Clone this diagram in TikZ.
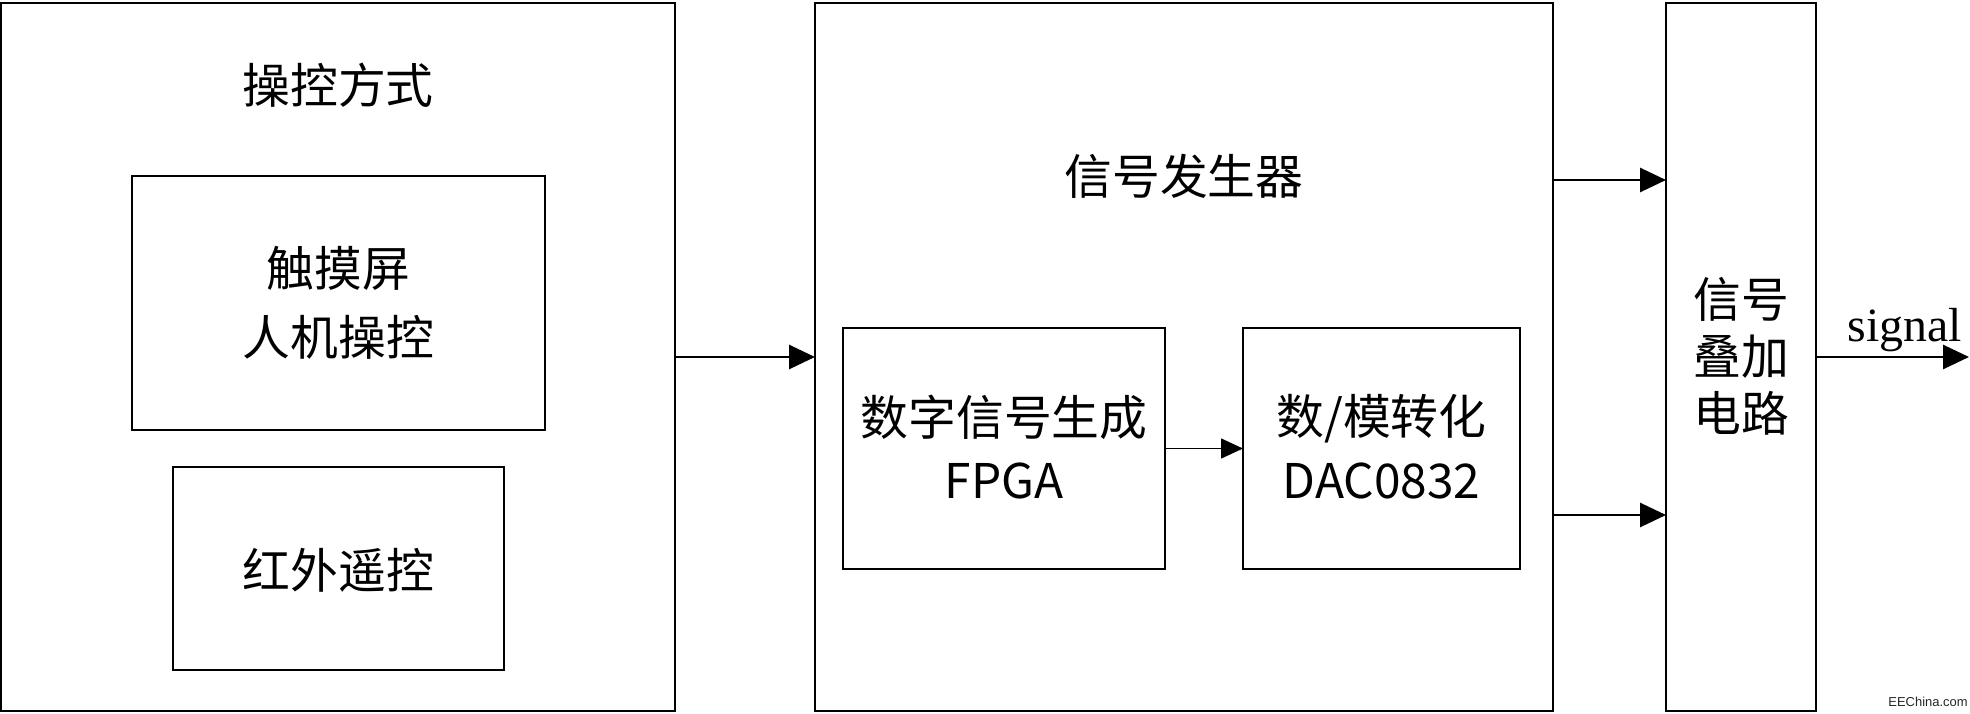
\documentclass[tikz,border=0pt]{standalone}
\usepackage{fontspec}
\newfontfamily\cjk{Noto Sans CJK SC}
\newfontfamily\tnr{Liberation Serif}
\newfontfamily\ari{Liberation Sans}
\usetikzlibrary{arrows.meta}
\begin{document}
\begin{tikzpicture}[x=1bp,y=-1bp,
  blk/.style={draw,line width=2.8bp,inner sep=0pt,outer sep=0pt,align=center,
    font=\cjk\fontsize{48}{68}\selectfont},
  lbl/.style={inner sep=0pt,align=center,font=\cjk\fontsize{48}{68}\selectfont},
  arr/.style={line width=2.8bp,-{Triangle[length=26bp,width=24bp]}},
  thinarr/.style={line width=1.4bp,-{Triangle[length=22bp,width=20bp]}}]
\useasboundingbox (0,0) rectangle (1970,714);
% left block
\node[blk,minimum width=674bp,minimum height=708bp] (ctrl) at (338,357) {};
\node[lbl] (ctrlt) at (338,85) {操控方式};
\node[blk,minimum width=413bp,minimum height=254bp] (touch) at (338.5,303) {};
\node[lbl,font=\cjk\fontsize{48}{69}\selectfont] (toucht) at (338.5,302.5) {触摸屏\\人机操控};
\node[blk,minimum width=331bp,minimum height=203bp] (ir) at (338.5,568.5) {};
\node[lbl] (irt) at (338.5,570) {红外遥控};
% signal generator
\node[blk,minimum width=738bp,minimum height=708bp] (gen) at (1184,357) {};
\node[lbl] (gent) at (1184,176) {信号发生器};
\node[blk,minimum width=322bp,minimum height=241bp] (fpga) at (1004,448.5) {};
\node[lbl,font=\cjk\fontsize{48}{64}\selectfont] (fpgat) at (1004,447) {数字信号生成\\FPGA};
\node[blk,minimum width=277bp,minimum height=241bp] (dac) at (1381.5,448.5) {};
\node[lbl,font=\cjk\fontsize{48}{64}\selectfont] (dact) at (1381.5,447) {数/模转化\\DAC0832};
% summing block
\node[blk,minimum width=150bp,minimum height=708bp] (sum) at (1741,357) {};
\node[lbl,font=\cjk\fontsize{48}{57}\selectfont] (sumt) at (1741,356) {信号\\叠加\\电路};
% connectors
\draw[arr] (gen.west -| ctrl.east) -- (gen.west);
\draw[thinarr] (fpga.east) -- (dac.west);
\coordinate (r1) at (0,180);
\coordinate (r2) at (0,515);
\draw[arr] (gen.east |- r1) -- (sum.west |- r1);
\draw[arr] (gen.east |- r2) -- (sum.west |- r2);
\coordinate (out) at (1969,357);
\draw[arr] (sum.east) -- (out);
\node[inner sep=0pt,font=\tnr\fontsize{48}{48}\selectfont] (sig) at (1905,330) {signal};
\node[inner sep=0pt,text=black!85,font=\ari\fontsize{13}{13}\selectfont] (wm) at (1928,702) {EEChina.com};
\end{tikzpicture}
\end{document}
